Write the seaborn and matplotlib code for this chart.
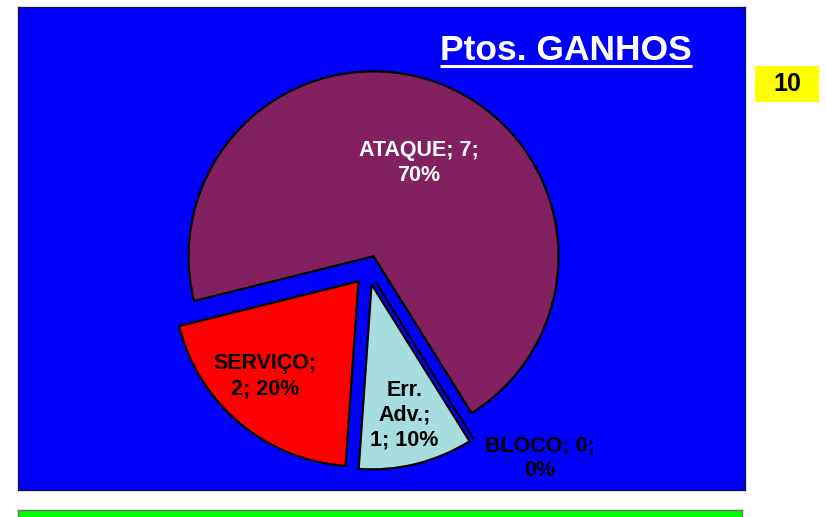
import numpy as np
import matplotlib
matplotlib.use("Agg")
import matplotlib.pyplot as plt
import seaborn as sns

# chart data
categories = ['ATAQUE', 'SERVIÇO', 'Err. Adv.', 'BLOCO']
points = [7, 2, 1, 0]
slice_labels = ['ATAQUE; 7;\n70%', 'SERVIÇO;\n2; 20%', 'Err.\nAdv.;\n1; 10%', 'BLOCO; 0;\n0%']
slice_colors = ['#822060', '#FF0000', '#A6DEDF', '#FFFFFF']
label_colors = ['white', 'black', 'black', 'black']
title_text = 'Ptos. GANHOS'
total_text = '10'


def main():
    sns.set_style('white')
    plt.rcParams['font.family'] = ['Liberation Sans', 'DejaVu Sans']
    plt.rcParams['font.weight'] = 'bold'

    W, H = 826, 517
    fig = plt.figure(figsize=(W / 100, H / 100), dpi=100)
    fig.patch.set_facecolor('white')

    # --- blue chart panel ---
    px0, py0, px1, py1 = 18, 7, 745, 490
    ax = fig.add_axes([px0 / W, (H - py1) / H, (px1 - px0) / W, (py1 - py0) / H])
    ax.set_facecolor('#0000FF')

    radius = 185
    palette = sns.color_palette(slice_colors)
    wedges, _ = ax.pie(
        points,
        colors=palette,
        explode=[0.08 * radius] * len(points),  # explode is in data units
        startangle=-58,
        counterclock=True,
        center=(368 - px0, py1 - 270),
        radius=radius,
        frame=True,
        wedgeprops=dict(edgecolor='black', linewidth=1.6, joinstyle='miter'),
    )
    ax.set_xlim(0, px1 - px0)
    ax.set_ylim(0, py1 - py0)
    ax.set_xticks([])
    ax.set_yticks([])
    ax.set_aspect('auto')
    for s in ax.spines.values():
        s.set_color('#101040')
        s.set_linewidth(0.9)

    # slice labels, placed along each wedge's mid-angle
    dist = [0.56, 0.72, 0.73, 1.3]
    offs = [-4, -4.7, 0, 11]
    for w, txt, col, f, o in zip(wedges, slice_labels, label_colors, dist, offs):
        cx, cy = w.center
        th = np.deg2rad((w.theta1 + w.theta2) / 2 + o)
        ax.text(cx + f * w.r * np.cos(th), cy + f * w.r * np.sin(th), txt,
                ha='center', va='center', fontsize=15.5, fontweight='bold',
                color=col, linespacing=1.25)

    # title with underline
    t = ax.text((692 - px0) / (px1 - px0), (py1 - 60.5) / (py1 - py0), title_text,
                transform=ax.transAxes, ha='right', va='baseline',
                fontsize=25.5, fontweight='bold', color='white')
    fig.canvas.draw()
    bb = t.get_window_extent().transformed(ax.transAxes.inverted())
    uy = (py1 - 65.5) / (py1 - py0)
    ax.plot([bb.x0, bb.x1], [uy, uy], transform=ax.transAxes, color='white', lw=2.2,
            solid_capstyle='butt')

    # --- yellow total box ---
    ybox = fig.add_axes([755 / W, (H - 102) / H, 64 / W, 36 / H])
    ybox.set_facecolor('#FFFF00')
    ybox.set_xticks([])
    ybox.set_yticks([])
    for s in ybox.spines.values():
        s.set_visible(False)
    ybox.text(0.5, 0.5, total_text, transform=ybox.transAxes, ha='center', va='center',
              fontsize=18, fontweight='bold', color='black')

    # --- green bar at bottom ---
    gbar = fig.add_axes([18 / W, -0.02, (742 - 18) / W, (H - 510) / H + 0.02])
    gbar.set_facecolor('#00FF00')
    gbar.set_xticks([])
    gbar.set_yticks([])
    for s in gbar.spines.values():
        s.set_color('#707070')
        s.set_linewidth(1.0)

    fig.savefig('out.png', dpi=100)


if __name__ == "__main__":
    main()
